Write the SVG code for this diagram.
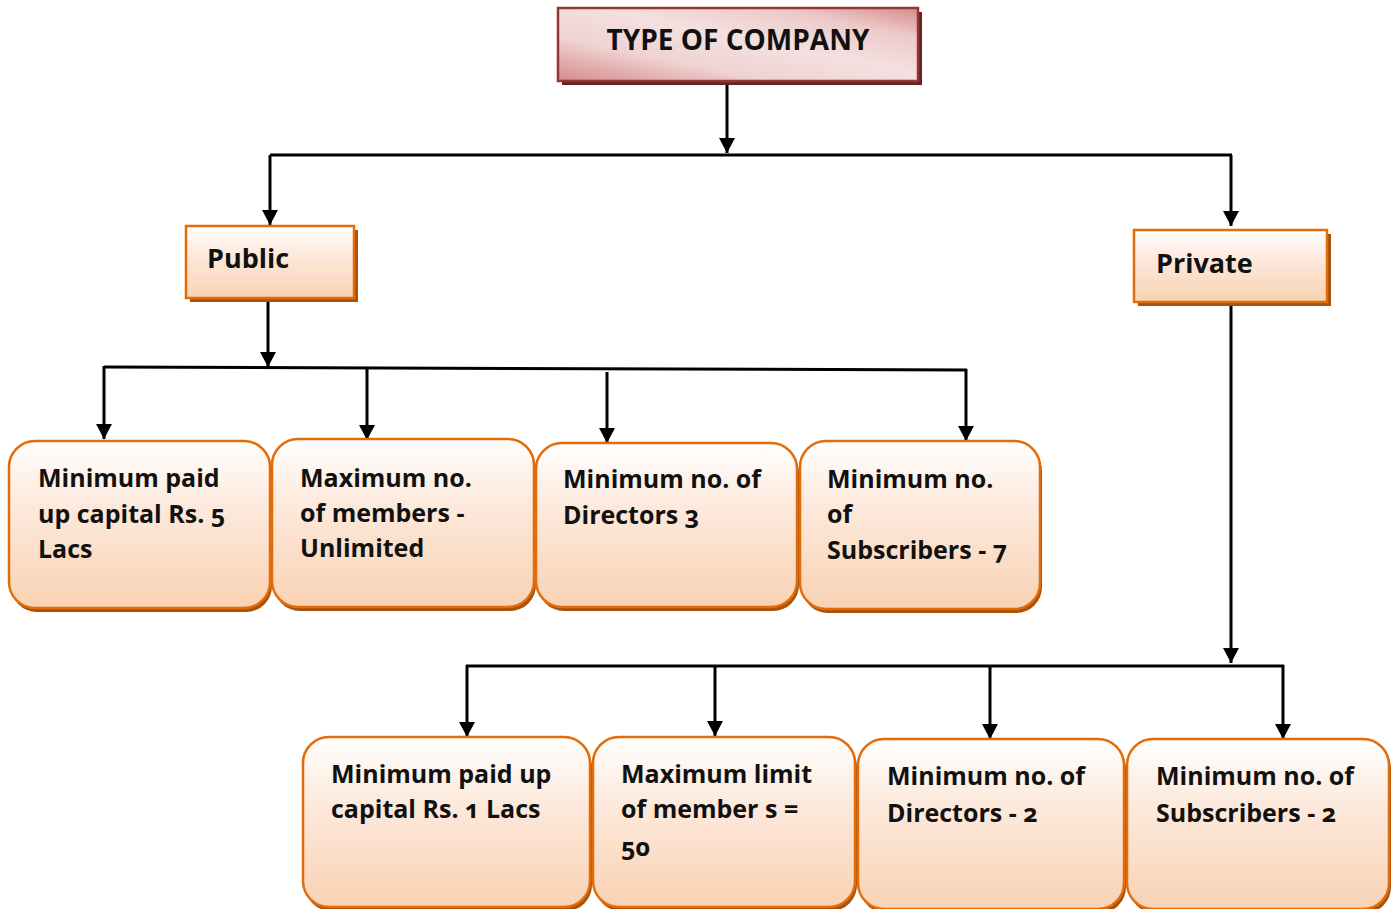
<svg xmlns="http://www.w3.org/2000/svg" width="1392" height="909" viewBox="0 0 1392 909">
<defs>
<linearGradient id="gOrange" x1="0" y1="0" x2="0" y2="1">
<stop offset="0" stop-color="#FFFFFF"/>
<stop offset="0.35" stop-color="#FDEBDF"/>
<stop offset="1" stop-color="#F9D2B3"/>
</linearGradient>
<linearGradient id="gPink" x1="0" y1="1" x2="1" y2="0">
<stop offset="0" stop-color="#D58A89"/>
<stop offset="0.3" stop-color="#F0D3D3"/>
<stop offset="0.55" stop-color="#F4E0E0"/>
<stop offset="0.8" stop-color="#EDC9C9"/>
<stop offset="1" stop-color="#D48A89"/>
</linearGradient>
<marker id="arr" viewBox="0 0 15 16" refX="15" refY="8" markerWidth="15" markerHeight="16" markerUnits="userSpaceOnUse" orient="auto">
<path d="M0,0 L15,8 L0,16 z" fill="#000"/>
</marker>
<style>
text { font-family: "Open Sans", "Noto Sans", "Liberation Sans", sans-serif; font-weight: bold; font-size: 25px; fill: #111; font-variant-numeric: oldstyle-nums; }
.title { font-size: 28px; }
.head { font-size: 27px; }
.obox { fill: url(#gOrange); stroke: #E36C0A; stroke-width: 2.5; }
.oshadow { fill: #A9520A; }
.pbox { fill: url(#gPink); stroke: #953735; stroke-width: 2.5; }
.pshadow { fill: #632423; }
.conn line, .conn path { stroke: #000; stroke-width: 3; fill: none; }
.arrow { marker-end: url(#arr); }
</style>
</defs>

<g class="conn" id="connectors">
<line class="arrow" x1="727" y1="83" x2="727" y2="153"/>
<line x1="270" y1="155" x2="1232" y2="155"/>
<line class="arrow" x1="270" y1="155" x2="270" y2="225"/>
<line class="arrow" x1="1231" y1="155" x2="1231" y2="226"/>
<line class="arrow" x1="268" y1="301" x2="268" y2="367"/>
<line x1="104" y1="367" x2="967" y2="370"/>
<line class="arrow" x1="104" y1="366" x2="104" y2="439"/>
<line class="arrow" x1="367" y1="368" x2="367" y2="440"/>
<line class="arrow" x1="607" y1="372" x2="607" y2="443"/>
<line class="arrow" x1="966" y1="369" x2="966" y2="441"/>
<line class="arrow" x1="1231" y1="306" x2="1231" y2="663"/>
<line x1="466" y1="666" x2="1284" y2="666"/>
<line class="arrow" x1="467" y1="665" x2="467" y2="737"/>
<line class="arrow" x1="715" y1="665" x2="715" y2="736"/>
<line class="arrow" x1="990" y1="665" x2="990" y2="739"/>
<line class="arrow" x1="1283" y1="665" x2="1283" y2="739"/>
</g>

<g id="type-of-company">
<rect class="pshadow" x="562" y="12" width="360" height="73"/>
<rect class="pbox" x="558" y="8" width="360" height="73"/>
<text class="title" x="738" y="50" text-anchor="middle">TYPE OF COMPANY</text>
</g>

<g id="public">
<rect class="oshadow" x="190" y="230" width="168" height="72"/>
<rect class="obox" x="186" y="226" width="168" height="72"/>
<text class="head" x="207" y="268">Public</text>
</g>

<g id="private">
<rect class="oshadow" x="1138" y="234" width="193" height="72"/>
<rect class="obox" x="1134" y="230" width="193" height="72"/>
<text class="head" x="1156" y="273">Private</text>
</g>

<g id="pub-capital">
<rect class="oshadow" x="11" y="445" width="261" height="167" rx="26"/>
<rect class="obox" x="9" y="441" width="261" height="167" rx="26"/>
<text x="38" y="487">Minimum paid</text>
<text x="38" y="523">up capital Rs. 5</text>
<text x="38" y="558">Lacs</text>
</g>

<g id="pub-members">
<rect class="oshadow" x="274" y="443" width="262" height="168" rx="26"/>
<rect class="obox" x="272" y="439" width="262" height="168" rx="26"/>
<text x="300" y="487">Maximum no.</text>
<text x="300" y="522">of members -</text>
<text x="300" y="557">Unlimited</text>
</g>

<g id="pub-directors">
<rect class="oshadow" x="538" y="447" width="261" height="164" rx="26"/>
<rect class="obox" x="536" y="443" width="261" height="164" rx="26"/>
<text x="563" y="488">Minimum no. of</text>
<text x="563" y="524">Directors 3</text>
</g>

<g id="pub-subscribers">
<rect class="oshadow" x="802" y="445" width="240" height="168" rx="26"/>
<rect class="obox" x="800" y="441" width="240" height="168" rx="26"/>
<text x="827" y="488">Minimum no.</text>
<text x="827" y="523">of</text>
<text x="827" y="559">Subscribers - 7</text>
</g>

<g id="pvt-capital">
<rect class="oshadow" x="305" y="741" width="287" height="170" rx="26"/>
<rect class="obox" x="303" y="737" width="287" height="170" rx="26"/>
<text x="331" y="783">Minimum paid up</text>
<text x="331" y="818">capital Rs. 1 Lacs</text>
</g>

<g id="pvt-members">
<rect class="oshadow" x="595" y="741" width="262" height="170" rx="26"/>
<rect class="obox" x="593" y="737" width="262" height="170" rx="26"/>
<text x="621" y="783">Maximum limit</text>
<text x="621" y="818">of member s =</text>
<text x="621" y="856">50</text>
</g>

<g id="pvt-directors">
<rect class="oshadow" x="860" y="743" width="266" height="170" rx="26"/>
<rect class="obox" x="858" y="739" width="266" height="170" rx="26"/>
<text x="887" y="785">Minimum no. of</text>
<text x="887" y="822">Directors - 2</text>
</g>

<g id="pvt-subscribers">
<rect class="oshadow" x="1129" y="743" width="262" height="170" rx="26"/>
<rect class="obox" x="1127" y="739" width="262" height="170" rx="26"/>
<text x="1156" y="785">Minimum no. of</text>
<text x="1156" y="822">Subscribers - 2</text>
</g>
</svg>
